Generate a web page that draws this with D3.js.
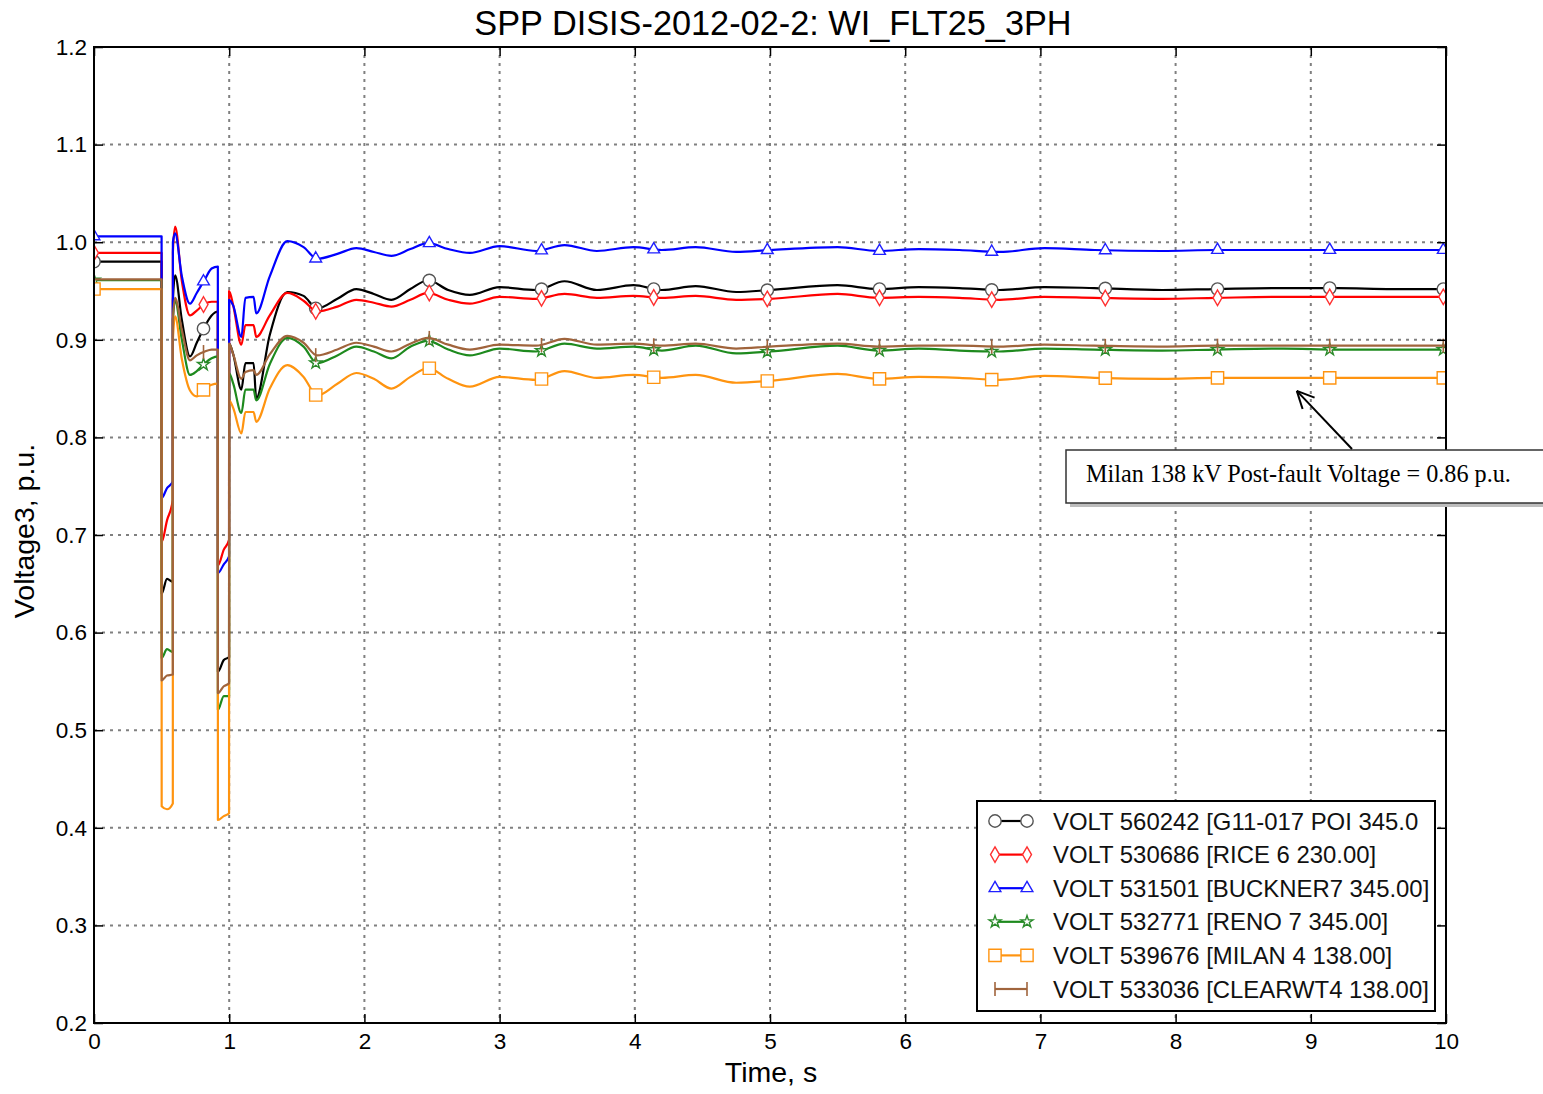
<!DOCTYPE html>
<html>
<head>
<meta charset="utf-8">
<script src="https://cdn.jsdelivr.net/npm/d3@7"></script>
<style>
html,body{margin:0;padding:0;background:#fff;}
svg{display:block;}
</style>
</head>
<body>
<svg id="chart" width="1543" height="1094"></svg>
<script>
const title = "SPP DISIS-2012-02-2: WI_FLT25_3PH";
const xLabel = "Time, s";
const yLabel = "Voltage3, p.u.";
const xTicks = [0,1,2,3,4,5,6,7,8,9,10];
const yTicks = [0.2,0.3,0.4,0.5,0.6,0.7,0.8,0.9,1.0,1.1,1.2];
const annotationText = "Milan 138 kV Post-fault Voltage = 0.86 p.u.";
const annotationTarget = [9.0, 0.861];

const seriesNames = [
  "VOLT 560242 [G11-017 POI 345.0",
  "VOLT 530686 [RICE 6 230.00]",
  "VOLT 531501 [BUCKNER7 345.00]",
  "VOLT 532771 [RENO 7 345.00]",
  "VOLT 539676 [MILAN 4 138.00]",
  "VOLT 533036 [CLEARWT4 138.00]"
];

const markerTimes = [0, 0.81, 1.64, 2.48, 3.31, 4.14, 4.98, 5.81, 6.64, 7.48, 8.31, 9.14, 9.98];

const time = [0, 0.5, 0.5005, 0.54, 0.583, 0.5835, 0.6, 0.65, 0.71, 0.76, 0.82, 0.87, 0.916,
  0.9165, 0.96, 0.999, 0.9995, 1.03, 1.09, 1.12, 1.18, 1.2, 1.3, 1.43, 1.55, 1.65, 1.8, 1.94,
  2.07, 2.2, 2.34, 2.47, 2.62, 2.78, 3.0, 3.27, 3.48, 3.72, 3.99, 4.2, 4.45, 4.75, 5.0, 5.5,
  5.8, 6.1, 6.4, 6.7, 7.03, 7.4, 7.9, 8.3, 8.8, 9.2, 9.6, 10];

const voltG11 = [0.980, 0.980, 0.640, 0.655, 0.652, 0.940, 0.966, 0.920, 0.883, 0.897, 0.914, 0.925, 0.929,
  0.560, 0.572, 0.575, 0.896, 0.885, 0.849, 0.876, 0.876, 0.840, 0.905, 0.949, 0.945, 0.932, 0.942, 0.952,
  0.947, 0.941, 0.952, 0.961, 0.951, 0.946, 0.954, 0.951, 0.960, 0.951, 0.956, 0.951, 0.955, 0.949, 0.951, 0.956,
  0.952, 0.954, 0.953, 0.951, 0.954, 0.953, 0.951, 0.952, 0.953, 0.953, 0.952, 0.952];

const voltRice = [0.989, 0.989, 0.693, 0.715, 0.736, 0.990, 1.016, 0.960, 0.925, 0.930, 0.937, 0.939, 0.939,
  0.669, 0.685, 0.695, 0.950, 0.935, 0.895, 0.915, 0.915, 0.903, 0.925, 0.948, 0.940, 0.929, 0.934, 0.941,
  0.938, 0.934, 0.941, 0.948, 0.941, 0.937, 0.944, 0.942, 0.947, 0.943, 0.945, 0.943, 0.945, 0.941, 0.942, 0.947,
  0.943, 0.944, 0.943, 0.941, 0.944, 0.943, 0.942, 0.943, 0.944, 0.944, 0.944, 0.944];

const voltBuckner = [1.006, 1.006, 0.738, 0.748, 0.755, 1.000, 1.009, 0.965, 0.937, 0.948, 0.962, 0.973, 0.975,
  0.661, 0.670, 0.678, 0.941, 0.935, 0.903, 0.943, 0.944, 0.927, 0.965, 1.001, 0.995, 0.983, 0.988, 0.994,
  0.990, 0.986, 0.993, 0.999, 0.993, 0.989, 0.996, 0.991, 0.997, 0.991, 0.995, 0.992, 0.995, 0.990, 0.992, 0.995,
  0.991, 0.993, 0.992, 0.990, 0.994, 0.992, 0.991, 0.992, 0.992, 0.992, 0.992, 0.992];

const voltReno = [0.961, 0.961, 0.574, 0.583, 0.580, 0.920, 0.940, 0.900, 0.864, 0.868, 0.876, 0.881, 0.883,
  0.521, 0.535, 0.535, 0.866, 0.855, 0.825, 0.849, 0.849, 0.838, 0.875, 0.902, 0.893, 0.876, 0.884, 0.893,
  0.888, 0.881, 0.893, 0.899, 0.890, 0.884, 0.891, 0.888, 0.896, 0.891, 0.893, 0.889, 0.894, 0.886, 0.888, 0.894,
  0.889, 0.891, 0.889, 0.888, 0.891, 0.890, 0.889, 0.890, 0.891, 0.890, 0.890, 0.890];

const voltMilan = [0.952, 0.952, 0.422, 0.419, 0.425, 0.900, 0.924, 0.880, 0.848, 0.842, 0.850, 0.854, 0.855,
  0.408, 0.412, 0.415, 0.838, 0.830, 0.804, 0.826, 0.826, 0.816, 0.850, 0.874, 0.862, 0.843, 0.855, 0.866,
  0.860, 0.850, 0.862, 0.871, 0.860, 0.852, 0.862, 0.859, 0.868, 0.861, 0.864, 0.861, 0.864, 0.856, 0.858, 0.865,
  0.860, 0.862, 0.861, 0.859, 0.863, 0.861, 0.860, 0.861, 0.861, 0.861, 0.861, 0.861];

const voltClearwt = [0.962, 0.962, 0.551, 0.556, 0.557, 0.920, 0.943, 0.910, 0.879, 0.884, 0.888, 0.890, 0.890,
  0.538, 0.545, 0.548, 0.896, 0.885, 0.860, 0.867, 0.869, 0.864, 0.885, 0.904, 0.897, 0.884, 0.890, 0.897,
  0.893, 0.888, 0.896, 0.902, 0.895, 0.890, 0.895, 0.894, 0.901, 0.895, 0.896, 0.894, 0.896, 0.891, 0.893, 0.896,
  0.893, 0.894, 0.894, 0.893, 0.895, 0.894, 0.893, 0.894, 0.894, 0.894, 0.894, 0.894];

const seriesColors = ["#000000", "#ff0000", "#0000ff", "#1e8a1e", "#ff9410", "#a0643c"];
const seriesMarkerStroke = ["#555555", "#ff3030", "#2020ff", "#2a8a2a", "#ff9410", "#a0643c"];
const seriesMarkers = ["circle", "diamond", "triangle", "star", "square", "vline"];
const seriesValues = [voltG11, voltRice, voltBuckner, voltReno, voltMilan, voltClearwt];

// ---------------- drawing ----------------
const svg = d3.select("#chart");
const M = {left: 94, right: 1446, top: 47, bottom: 1023};
const x = d3.scaleLinear().domain([0, 10]).range([M.left, M.right]);
const y = d3.scaleLinear().domain([0.2, 1.2]).range([M.bottom, M.top]);
const font = "'Liberation Sans', Arial, sans-serif";

svg.append("defs").append("clipPath").attr("id", "clip")
  .append("rect").attr("x", M.left).attr("y", M.top)
  .attr("width", M.right - M.left).attr("height", M.bottom - M.top);

// grid
const grid = svg.append("g");
grid.selectAll(".gx").data(xTicks.slice(1, -1)).enter().append("line")
  .attr("x1", d => x(d)).attr("x2", d => x(d)).attr("y1", M.top).attr("y2", M.bottom)
  .attr("stroke", "#808080").attr("stroke-width", 2).attr("stroke-dasharray", "3,5");
grid.selectAll(".gy").data(yTicks.slice(1, -1)).enter().append("line")
  .attr("y1", d => y(d)).attr("y2", d => y(d)).attr("x1", M.left).attr("x2", M.right)
  .attr("stroke", "#808080").attr("stroke-width", 2).attr("stroke-dasharray", "3,5");

// series
const plot = svg.append("g").attr("clip-path", "url(#clip)");
const line = d3.line().x(d => x(d[0])).y(d => y(d[1])).curve(d3.curveMonotoneX);

function symbolPath(kind) {
  const map = {circle: [d3.symbolCircle, 120], diamond: [d3.symbolDiamond, 70],
    triangle: [d3.symbolTriangle, 60], star: [d3.symbolStar, 45], square: [d3.symbolSquare, 150]};
  const s = map[kind];
  return d3.symbol().type(s[0]).size(s[1])();
}

function drawMarker(g, kind, px, py, stroke) {
  if (kind === "vline") {
    g.append("line").attr("x1", px).attr("x2", px).attr("y1", py - 7).attr("y2", py + 7)
      .attr("stroke", stroke).attr("stroke-width", 1.6);
  } else {
    g.append("path").attr("d", symbolPath(kind))
      .attr("transform", `translate(${px},${py})`)
      .attr("fill", "#fff").attr("stroke", stroke).attr("stroke-width", 1.4);
  }
}

function yAtX(node, px) {
  const L = node.getTotalLength();
  let lo = 0, hi = L;
  for (let i = 0; i < 40; i++) {
    const mid = (lo + hi) / 2;
    if (node.getPointAtLength(mid).x < px) lo = mid; else hi = mid;
  }
  return node.getPointAtLength((lo + hi) / 2).y;
}

seriesValues.forEach((vals, i) => {
  const data = time.map((t, k) => [t, vals[k]]);
  const g = plot.append("g");
  const p = g.append("path").datum(data).attr("d", line)
    .attr("fill", "none").attr("stroke", seriesColors[i]).attr("stroke-width", 2.2)
    .attr("stroke-linejoin", "round");
  const node = p.node();
  markerTimes.forEach(mt => {
    const px = x(mt);
    const py = mt === 0 ? y(vals[0]) : yAtX(node, px);
    drawMarker(g, seriesMarkers[i], px, py, seriesMarkerStroke[i]);
  });
});

// frame
svg.append("rect").attr("x", M.left).attr("y", M.top)
  .attr("width", M.right - M.left).attr("height", M.bottom - M.top)
  .attr("fill", "none").attr("stroke", "#000").attr("stroke-width", 2);

// axes with inward ticks
const axB = d3.axisBottom(x).tickValues(xTicks).tickSize(-9).tickPadding(10).tickFormat(d3.format("d"));
const axT = d3.axisTop(x).tickValues(xTicks).tickSize(-9).tickFormat("");
const axL = d3.axisLeft(y).tickValues(yTicks).tickSize(-9).tickPadding(7).tickFormat(d3.format(".1f"));
const axR = d3.axisRight(y).tickValues(yTicks).tickSize(-9).tickFormat("");
function styleAxis(g) {
  g.select(".domain").remove();
  g.selectAll(".tick line").attr("stroke", "#000").attr("stroke-width", 1.5);
  g.selectAll(".tick text").attr("fill", "#000").style("font-family", font).style("font-size", "22.5px");
}
svg.append("g").attr("transform", `translate(0,${M.bottom})`).call(axB).call(styleAxis);
svg.append("g").attr("transform", `translate(0,${M.top})`).call(axT).call(styleAxis);
svg.append("g").attr("transform", `translate(${M.left},0)`).call(axL).call(styleAxis);
svg.append("g").attr("transform", `translate(${M.right},0)`).call(axR).call(styleAxis);

// titles
svg.append("text").attr("x", 773).attr("y", 35).attr("text-anchor", "middle")
  .style("font-family", font).style("font-size", "34.3px").text(title);
svg.append("text").attr("x", 771).attr("y", 1082).attr("text-anchor", "middle")
  .style("font-family", font).style("font-size", "28.5px").text(xLabel);
svg.append("text").attr("transform", `translate(34,${531}) rotate(-90)`)
  .attr("text-anchor", "middle").style("font-family", font).style("font-size", "28.5px").text(yLabel);

// legend
const lg = svg.append("g");
const lx = 977, ly = 801, lw = 458, lh = 210;
lg.append("rect").attr("x", lx).attr("y", ly).attr("width", lw).attr("height", lh)
  .attr("fill", "#fff").attr("stroke", "#000").attr("stroke-width", 2);
seriesNames.forEach((name, i) => {
  const cy = 821 + i * 33.6;
  const row = lg.append("g");
  row.append("line").attr("x1", 995).attr("x2", 1027).attr("y1", cy).attr("y2", cy)
    .attr("stroke", seriesColors[i]).attr("stroke-width", 2.2);
  drawMarker(row, seriesMarkers[i], 995, cy, seriesMarkerStroke[i]);
  drawMarker(row, seriesMarkers[i], 1027, cy, seriesMarkerStroke[i]);
  row.append("text").attr("x", 1053).attr("y", cy + 8.5)
    .style("font-family", font).style("font-size", "23.9px").attr("fill", "#111").text(name);
});

// annotation
const ag = svg.append("g");
const bx = 1066, by = 450, bw = 500, bh = 53;
ag.append("rect").attr("x", bx + 4).attr("y", by + 4).attr("width", bw).attr("height", bh).attr("fill", "#bdbdbd");
ag.append("rect").attr("x", bx).attr("y", by).attr("width", bw).attr("height", bh)
  .attr("fill", "#fff").attr("stroke", "#333").attr("stroke-width", 1.5);
ag.append("text").attr("x", 1086).attr("y", 482)
  .style("font-family", "'Liberation Serif', 'Times New Roman', serif").style("font-size", "24.2px")
  .attr("fill", "#000").text(annotationText);
const tx = x(annotationTarget[0]) - 14, ty = y(annotationTarget[1]) + 13;
const sx = 1352, sy = 449;
ag.append("line").attr("x1", sx).attr("y1", sy).attr("x2", tx).attr("y2", ty)
  .attr("stroke", "#000").attr("stroke-width", 2);
const ang = Math.atan2(sy - ty, sx - tx);
[0.45, -0.45].forEach(da => {
  ag.append("line").attr("x1", tx).attr("y1", ty)
    .attr("x2", tx + 19 * Math.cos(ang + da)).attr("y2", ty + 19 * Math.sin(ang + da))
    .attr("stroke", "#000").attr("stroke-width", 2);
});
</script>
</body>
</html>
